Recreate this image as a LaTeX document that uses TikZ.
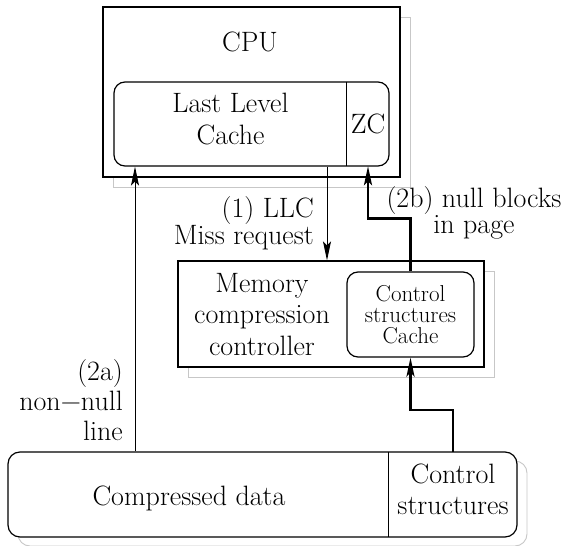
\documentclass[tikz,border=0pt]{standalone}
\usepackage{fontspec}
\usetikzlibrary{arrows.meta, positioning, shadows}
\tikzstyle{unit} = [rectangle, draw=black, line width=1.2pt, fill=white, drop shadow={shadow xshift=10.5pt, shadow yshift=-10pt, fill=white, draw=black!22, line width=0.9pt, opacity=1}]
\tikzstyle{memory} = [rectangle, rounded corners=12pt, draw=black, line width=1.2pt, fill=white, drop shadow={shadow xshift=10pt, shadow yshift=-9pt, fill=white, draw=black!22, line width=0.9pt, opacity=1}]
\tikzstyle{cache} = [rectangle, rounded corners=11pt, draw=black, line width=1.2pt, fill=white]
\tikzstyle{cell} = [rectangle, inner sep=0pt]
\tikzstyle{txt} = [inner sep=0pt, align=center, font=\fontsize{28}{32}\selectfont]
\tikzstyle{arrow} = [line width=1pt, -{Stealth[length=19pt, width=8pt, inset=4pt]}]
\tikzstyle{bus} = [line width=2.4pt, -{Stealth[length=19pt, width=8pt, inset=4pt]}]
\begin{document}
\begin{tikzpicture}[x=1pt, y=-1pt]
\useasboundingbox (0,0) rectangle (571,546);

% CPU
\node (cpu) [unit, minimum width=297pt, minimum height=170pt] at (251.5,92) {};
\node (cpu-label) [txt] at (250,42) {CPU};

% Last level cache with ZC part
\node (llc) [cache, minimum width=275pt, minimum height=84pt] at (251.5,124) {};
\node (llc-label) [txt] at (230.5,119.5) {Last Level\\Cache};
\node (zc) [cell, txt, minimum width=42pt, minimum height=84pt] at (368,124) {ZC};
\draw [line width=0.9pt] (zc.north west) -- (zc.south west);

% Memory compression controller
\node (mcc) [unit, minimum width=306pt, minimum height=106pt] at (331,314) {};
\node (mcc-label) [txt, font=\fontsize{28}{31.5}\selectfont] at (262,314.5) {Memory\\compression\\controller};
\node (csc) [cache, align=center, font=\fontsize{23}{21}\selectfont, minimum width=127pt, minimum height=85pt] at (410.5,314.5) {Control\\structures\\Cache};

% Main memory
\node (memory) [memory, minimum width=509pt, minimum height=85pt] at (262.5,494.5) {};
\node (data-label) [txt] at (189,498) {Compressed data};
\node (ctrl) [cell, minimum width=128pt, minimum height=85pt] at (453,494.5) {};
\node (ctrl-label) [txt, font=\fontsize{28}{31}\selectfont] at (453,489) {Control\\structures};
\draw [line width=0.9pt] (ctrl.north west) -- (ctrl.south west);

% Columns of the arrows
\coordinate (col-a) at (135,0);
\coordinate (col-miss) at (327,0);

% Arrows
\draw [arrow] (memory.north -| col-a) -- (llc.south -| col-a);
\draw [arrow] (llc.south -| col-miss) -- (mcc.north -| col-miss);
\draw [bus] (csc.north) -- ++(0,-53) -| (zc.south);
\draw [bus] (ctrl.north) -- ++(0,-42) -| (csc.south);

% Labels
\node (miss-label) [txt, align=right, anchor=east, font=\fontsize{28}{21}\selectfont] at (314,223) {(1) LLC\\Miss request};
\node (null-label) [txt, font=\fontsize{28}{19}\selectfont] at (474,212.5) {(2b) null blocks\\in page};
\node (line-label) [txt, align=right, anchor=east, font=\fontsize{28}{30}\selectfont] at (123,400.3) {(2a)\\non−null\\line};

\end{tikzpicture}
\end{document}
